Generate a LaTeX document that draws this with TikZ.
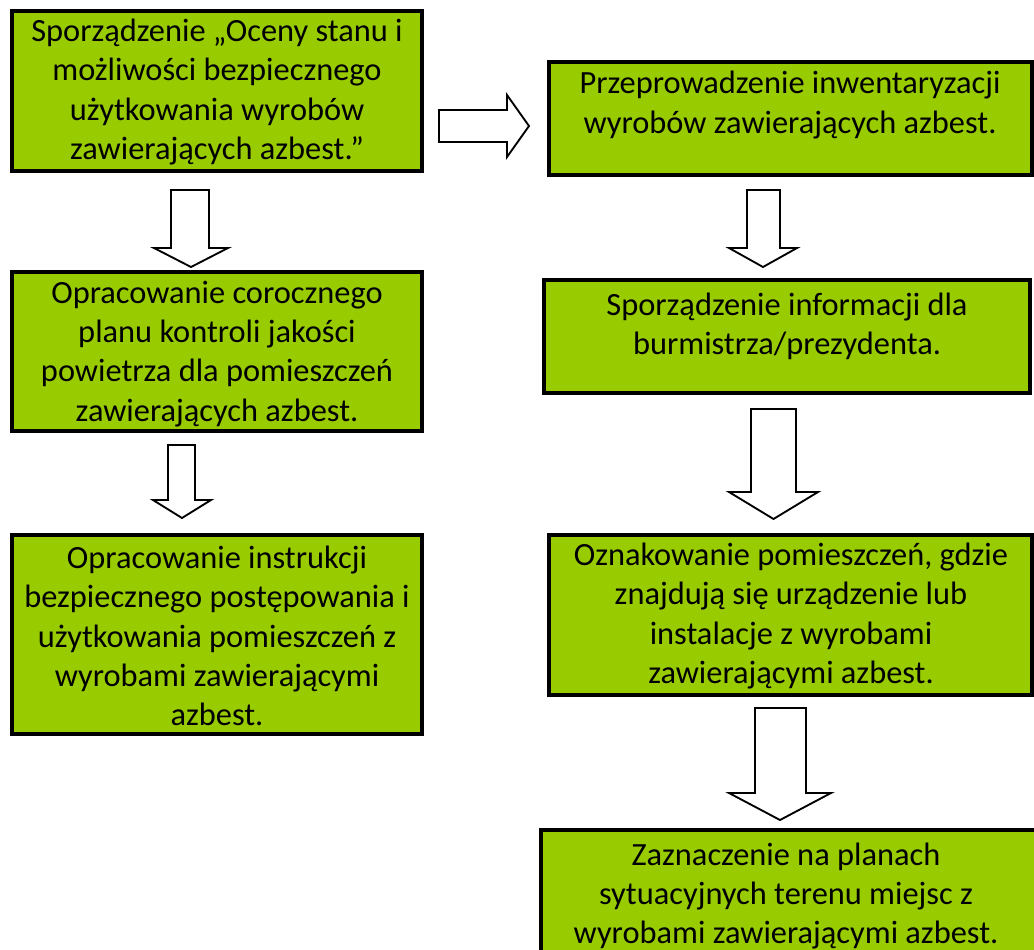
\documentclass[tikz,border=0pt]{standalone}
\usepackage{fontspec}
\setmainfont{Carlito}
\definecolor{boxgreen}{RGB}{153,204,0}
\tikzset{
  stepbox/.style={draw=black, line width=3pt, fill=boxgreen, rectangle, inner sep=0pt},
  steptext/.style={align=center, inner sep=0pt, font=\fontsize{24.3pt}{29.4pt}\selectfont, text=black},
  blockarrow/.style={draw=black, line width=1.4pt, fill=white, line join=miter},
}
\newcommand{\mkbox}[5]{%
  \pgfmathsetmacro{\mybw}{(#4-#2-4)*0.75}%
  \pgfmathsetmacro{\mybh}{(#5-#3-4)*0.75}%
  \node[stepbox, minimum width=\mybw pt, minimum height=\mybh pt] (#1) at ({(#2+#4)/2},{(#3+#5)/2}) {};}
% down block arrow: shaft left, shaft right, top, head start y, head left, head right, tip y
\newcommand{\downblock}[7]{%
  \draw[blockarrow] (#1,#3) -- (#2,#3) -- (#2,#4) -- (#6,#4) -- ({(#5+#6)/2},#7) -- (#5,#4) -- (#1,#4) -- cycle;}
\begin{document}
\begin{tikzpicture}[x=0.75pt,y=-0.75pt]
  \clip (0,0) rectangle (1034,949);
  \fill[white] (0,0) rectangle (1034,949);
  % boxes
  \mkbox{b1}{10}{9}{424}{173}
  \mkbox{b2}{547}{60}{1034}{177}
  \mkbox{b3}{10}{270}{424}{433}
  \mkbox{b4}{542}{278}{1032}{395}
  \mkbox{b5}{10}{533}{424}{736}
  \mkbox{b6}{547}{533}{1034}{697}
  \mkbox{b7}{539}{828}{1042}{962}
  % texts
  \node[steptext] (t1) at (217,92) {Sporządzenie „Oceny stanu i\\możliwości bezpiecznego\\użytkowania wyrobów\\zawierających azbest.”};
  \node[steptext] (t2) at (790,105) {Przeprowadzenie inwentaryzacji\\wyrobów zawierających azbest.};
  \node[steptext] (t3) at (217,354) {Opracowanie corocznego\\planu kontroli jakości\\powietrza dla pomieszczeń\\zawierających azbest.};
  \node[steptext] (t4) at (787,326) {Sporządzenie informacji dla\\burmistrza/prezydenta.};
  \node[steptext] (t5) at (217,636) {Opracowanie instrukcji\\bezpiecznego postępowania i\\użytkowania pomieszczeń z\\wyrobami zawierającymi\\azbest.};
  \node[steptext] (t6) at (791,616) {Oznakowanie pomieszczeń, gdzie\\znajdują się urządzenie lub\\instalacje z wyrobami\\zawierającymi azbest.};
  \node[steptext] (t7) at (786,896) {Zaznaczenie na planach\\sytuacyjnych terenu miejsc z\\wyrobami zawierającymi azbest.};
  % block arrows
  \downblock{171}{209}{190}{248}{154}{228}{267}
  \downblock{168}{195}{445}{500}{153}{211}{518}
  \downblock{747}{780}{190}{248}{729}{797}{267}
  \downblock{751}{796}{409}{492}{729}{818}{519}
  \downblock{755}{806}{708}{793}{729}{831}{820}
  \draw[blockarrow] (439,110) -- (507,110) -- (507,95) -- (529,126) -- (507,157) -- (507,142) -- (439,142) -- cycle;
\end{tikzpicture}
\end{document}
